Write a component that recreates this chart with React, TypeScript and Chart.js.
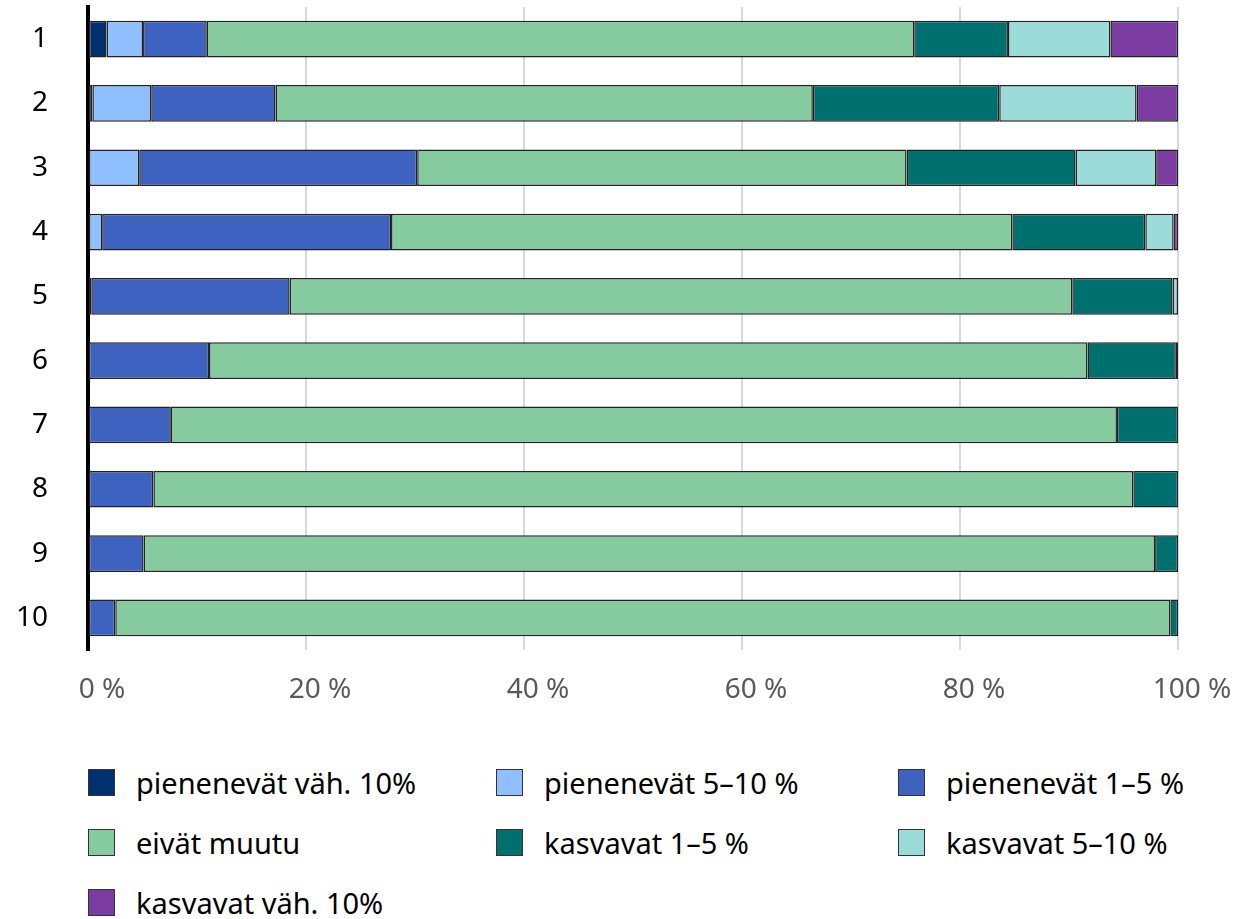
import React, { useEffect, useRef } from "react";
import { Chart, registerables } from "chart.js";

Chart.register(...registerables);

const categories = ["1", "2", "3", "4", "5", "6", "7", "8", "9", "10"];
const tickValues = [0, 20, 40, 60, 80, 100];

const seriesLabels = [
  "pienenevät väh. 10%",
  "pienenevät 5–10 %",
  "pienenevät 1–5 %",
  "eivät muutu",
  "kasvavat 1–5 %",
  "kasvavat 5–10 %",
  "kasvavat väh. 10%",
];
const seriesColors = ["#00306E", "#8FBFFF", "#3E62C0", "#86CA9F", "#00706E", "#9BDCD8", "#7A3CA0"];

const pienenevatVah10 = [1.7, 0.4, 0, 0, 0, 0, 0, 0, 0, 0];
const pienenevat5to10 = [3.35, 5.4, 4.7, 1.3, 0.3, 0, 0, 0, 0, 0];
const pienenevat1to5 = [5.85, 11.4, 25.5, 26.5, 18.2, 11.1, 7.6, 6.0, 5.1, 2.5];
const eivatMuutu = [64.9, 49.3, 44.9, 57.0, 71.8, 80.6, 86.8, 89.9, 92.8, 96.8];
const kasvavat1to5 = [8.6, 17.1, 15.5, 12.2, 9.2, 8.1, 5.6, 4.1, 2.1, 0.7];
const kasvavat5to10 = [9.4, 12.6, 7.4, 2.6, 0.5, 0.2, 0, 0, 0, 0];
const kasvavatVah10 = [6.2, 3.8, 2.0, 0.4, 0, 0, 0, 0, 0, 0];

const seriesValues = [
  pienenevatVah10,
  pienenevat5to10,
  pienenevat1to5,
  eivatMuutu,
  kasvavat1to5,
  kasvavat5to10,
  kasvavatVah10,
];

const FONT = "'Noto Sans', 'Open Sans', sans-serif";

export default function App() {
  const canvasRef = useRef<HTMLCanvasElement | null>(null);

  useEffect(() => {
    if (!canvasRef.current) return;
    const chart = new Chart(canvasRef.current, {
      type: "bar",
      data: {
        labels: categories,
        datasets: seriesLabels.map((label, i) => ({
          label,
          data: seriesValues[i].map((v) => (v === 0 ? null : v)),
          backgroundColor: seriesColors[i],
          borderColor: "#222",
          borderWidth: 1.5,
          borderSkipped: false,
          barPercentage: 0.57,
          categoryPercentage: 1.0,
        })),
      },
      options: {
        indexAxis: "y",
        animation: false,
        responsive: true,
        maintainAspectRatio: false,
        layout: { padding: { top: 7, right: 67, left: 0, bottom: 0 } },
        plugins: {
          legend: { display: false },
          tooltip: { enabled: false },
        },
        scales: {
          x: {
            stacked: true,
            min: 0,
            max: 100,
            afterBuildTicks: (s: any) => {
              s.ticks = tickValues.map((v) => ({ value: v }));
            },
            ticks: {
              callback: (v: any) => v + " %",
              color: "#595959",
              font: { family: FONT, size: 28 },
              padding: 23,
              labelOffset: 14,
              maxRotation: 0,
              autoSkip: false,
            },
            grid: { color: "#d9d9d9", lineWidth: 2, drawTicks: false },
            border: { display: false },
            afterFit: (s: any) => {
              s.height = 90;
              s.paddingLeft = 0;
              s.paddingRight = 0;
            },
          },
          y: {
            stacked: true,
            z: 1,
            ticks: {
              color: "#000",
              font: { family: FONT, size: 28 },
              padding: 40,
            },
            grid: { display: false, drawTicks: false },
            border: { display: true, color: "#000", width: 4 },
            afterFit: (s: any) => {
              s.width = 88;
              s.paddingTop = 0;
              s.paddingBottom = 0;
            },
          },
        },
      } as any,
    });
    return () => chart.destroy();
  }, []);

  const colLeft = [88, 496, 898];
  const rowTop = [769, 829, 889];

  return (
    <div style={{ position: "absolute", left: 0, top: 0, width: 1245, height: 919, background: "#fff", fontFamily: FONT }}>
      <div style={{ position: "absolute", left: 0, top: 0, width: 1245, height: 740 }}>
        <canvas ref={canvasRef} />
      </div>
      {seriesLabels.map((label, i) => (
        <div
          key={label}
          style={{
            position: "absolute",
            left: colLeft[i % 3],
            top: rowTop[Math.floor(i / 3)],
            height: 27,
            display: "flex",
            alignItems: "center",
            whiteSpace: "nowrap",
          }}
        >
          <span
            style={{
              display: "inline-block",
              width: 27,
              height: 27,
              boxSizing: "border-box",
              background: seriesColors[i],
              border: "1.5px solid #333",
            }}
          />
          <span style={{ marginLeft: 21, fontSize: 29, color: "#000", lineHeight: "27px" }}>{label}</span>
        </div>
      ))}
    </div>
  );
}
